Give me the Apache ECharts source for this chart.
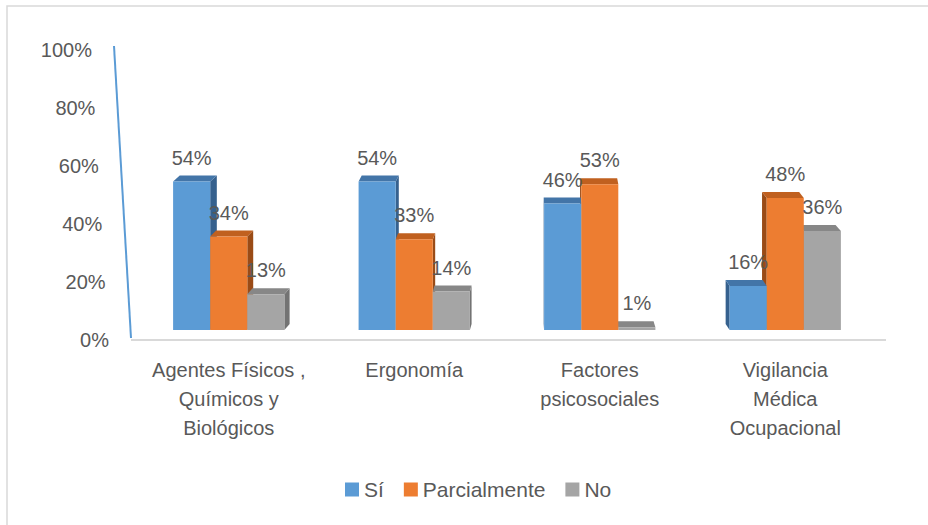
<!DOCTYPE html>
<html><head><meta charset="utf-8">
<script src="https://cdn.jsdelivr.net/npm/echarts@6/dist/echarts.min.js"></script>
<style>html,body{margin:0;padding:0;background:#fff}#c{width:928px;height:525px}</style>
</head><body><div id="c"></div>
<script>
// ---- data ----
const categories = ['Agentes Físicos ,\nQuímicos y\nBiológicos', 'Ergonomía', 'Factores\npsicosociales', 'Vigilancia\nMédica\nOcupacional'];
const seriesNames = ['Sí', 'Parcialmente', 'No'];
const si = [54, 54, 46, 16];
const parcialmente = [34, 33, 53, 48];
const no = [13, 14, 1, 36];
const yTicks = [0, 20, 40, 60, 80, 100];

// ---- style ----
const FRONT = ['#5B9BD5', '#ED7D31', '#A5A5A5'];
const TOP = ['#4375A8', '#C0601F', '#878787'];
const SIDE = ['#36618E', '#9A4B16', '#737373'];
const FONT = "'Liberation Sans', Arial, sans-serif";
const TXT = '#595959';
const VPX = 540, K = 0.019, DEPTH = 6, GROUP = 0.6;

function render3D(sIdx) {
  return function (params, api) {
    const cat = api.value(0), val = api.value(1);
    const base = api.coord([cat, 0]);
    const topP = api.coord([cat, val]);
    const band = api.size([1, 0])[0];
    const gw = band * GROUP, bw = gw / 3;
    const x0 = base[0] - gw / 2 + sIdx * bw, x1 = x0 + bw;
    const yb = base[1], yt = topP[1];
    const dx = K * (VPX - (x0 + bw / 2));
    const order = dx > 0 ? sIdx : 2 - sIdx;
    const z = order * 10;
    const sx = dx > 0 ? x1 : x0;
    const children = [
      { type: 'polygon', z2: z, shape: { points: [[sx, yt], [sx + dx, yt - DEPTH], [sx + dx, yb - DEPTH], [sx, yb]] }, style: { fill: SIDE[sIdx] } },
      { type: 'polygon', z2: z + 1, shape: { points: [[x0, yt], [x0 + dx, yt - DEPTH], [x1 + dx, yt - DEPTH], [x1, yt]] }, style: { fill: TOP[sIdx] } },
      { type: 'rect', z2: z + 2, shape: { x: x0, y: yt, width: bw, height: yb - yt }, style: { fill: FRONT[sIdx] } },
      { type: 'text', z2: 100, style: { text: val + '%', x: x0 + bw / 2, y: yt - 24, align: 'center', verticalAlign: 'middle', fill: TXT, fontSize: 20, fontFamily: FONT } }
    ];
    return { type: 'group', children: children };
  };
}

const allValues = [si, parcialmente, no];
const series = seriesNames.map((name, i) => ({
  name: name,
  type: 'custom',
  xAxisIndex: 1,
  yAxisIndex: 1,
  itemStyle: { color: FRONT[i] },
  renderItem: render3D(i),
  data: allValues[i].map((v, j) => [j, v])
}));

const rich = {};
yTicks.forEach(t => {
  rich['p' + t] = { fontSize: 20, fontFamily: FONT, color: TXT, padding: [0, 0.17 * t, 0, 0] };
});

const chart = echarts.init(document.getElementById('c'), null, { renderer: 'svg' });
chart.setOption({
  animation: false,
  backgroundColor: '#ffffff',
  textStyle: { fontFamily: FONT },
  grid: [
    { left: 136, right: 50, top: 50, bottom: 185 },
    { left: 136, right: 50, top: 55, bottom: 195 }
  ],
  xAxis: [
    { type: 'category', gridIndex: 0, data: categories,
      axisLine: { show: false }, axisTick: { show: false },
      axisLabel: { interval: 0, margin: 15, fontSize: 20, lineHeight: 29, color: TXT, fontFamily: FONT } },
    { type: 'category', gridIndex: 1, data: categories, show: false }
  ],
  yAxis: [
    { type: 'value', gridIndex: 0, min: 0, max: 100, interval: 20,
      splitLine: { show: false }, axisLine: { show: false }, axisTick: { show: false },
      axisLabel: { margin: 27, formatter: v => '{p' + v + '|' + v + '%}', rich: rich } },
    { type: 'value', gridIndex: 1, min: 0, max: 100, show: false }
  ],
  legend: {
    data: seriesNames,
    left: 340, top: 474,
    icon: 'rect', itemWidth: 14, itemHeight: 14, itemGap: 20,
    textStyle: { fontSize: 21, color: TXT, fontFamily: FONT }
  },
  series: series
});

// axis decorations derived from the axis scale
const y0 = chart.convertToPixel({ yAxisIndex: 0 }, 0);
const y100 = chart.convertToPixel({ yAxisIndex: 0 }, 100);
chart.setOption({
  graphic: [
    { type: 'rect', shape: { x: 7, y: 6, width: 940, height: 540 }, style: { fill: 'none', stroke: '#D9D9D9', lineWidth: 1.5 }, silent: true },
    { type: 'line', shape: { x1: 114, y1: y100 - 4, x2: 131, y2: y0 - 2 }, style: { stroke: '#5B9BD5', lineWidth: 2 } },
    { type: 'line', shape: { x1: 131, y1: y0, x2: 886, y2: y0 }, style: { stroke: '#D9D9D9', lineWidth: 2 } }
  ]
});
</script></body></html>
